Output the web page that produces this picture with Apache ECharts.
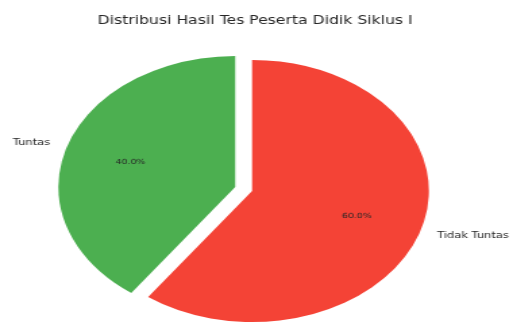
<!DOCTYPE html>
<html>
<head>
<meta charset="utf-8">
<script src="https://cdn.jsdelivr.net/npm/echarts@6/dist/echarts.min.js"></script>
<style>
    html, body {margin: 0; padding: 0; background: #fff; overflow: hidden;}
    /* the reference is a stretched picture, so draw narrow and stretch it */
    #chart {width: 378px; height: 323px; transform: scaleX(1.35); transform-origin: 0 0;}
</style>
</head>
<body>
<div id="chart"></div>
<script>
    const titleText = 'Distribusi Hasil Tes Peserta Didik Siklus I';
    const categories = ['Tuntas', 'Tidak Tuntas'];
    const values = [40, 60];
    const explodedIndex = 0;

    const colors = ['#4CAF50', '#F44336'];
    const font = 'DejaVu Sans';
    const R = 131;

    let chart = echarts.init(document.getElementById('chart'));

    function buildData(withColor) {
        return categories.map((name, i) => ({
            name: name,
            value: values[i],
            selected: i === explodedIndex,
            itemStyle: {color: withColor ? colors[i] : 'transparent', borderWidth: 0},
        }));
    }

    let option = {
        animation: false,
        title: {
            text: titleText,
            left: 'center',
            top: 10,
            textStyle: {fontFamily: font, fontSize: 11.6, fontWeight: 'normal', color: '#262626'}
        },
        series: [
            {
                // slices + name labels outside (at 1.1 r)
                type: 'pie',
                center: [186.7, 191],
                radius: [0, R],
                startAngle: 90,
                clockwise: false,
                selectedMode: 'single',
                selectedOffset: R * 0.1,
                avoidLabelOverlap: false,
                silent: true,
                emphasis: {disabled: true},
                select: {itemStyle: {borderWidth: 0}},
                label: {
                    show: true,
                    position: 'outside',
                    distanceToLabelLine: 0,
                    fontFamily: font,
                    fontSize: 8.5,
                    color: '#262626',
                    formatter: '{b}'
                },
                labelLine: {show: false, length: R * 0.1, length2: 0},
                data: buildData(true)
            },
            {
                // invisible ring, only for the percent labels (at 0.6 r)
                type: 'pie',
                center: [186.7, 191],
                radius: [R * 0.2, R],
                startAngle: 90,
                clockwise: false,
                selectedMode: 'single',
                selectedOffset: R * 0.1,
                avoidLabelOverlap: false,
                silent: true,
                emphasis: {disabled: true},
                select: {itemStyle: {color: 'transparent', borderWidth: 0}},
                label: {
                    show: true,
                    position: 'inside',
                    fontFamily: font,
                    fontSize: 7,
                    color: '#262626',
                    formatter: (p) => p.percent.toFixed(1) + '%'
                },
                labelLine: {show: false},
                data: buildData(false)
            }
        ]
    };
    chart.setOption(option);
</script>
</body>
</html>
